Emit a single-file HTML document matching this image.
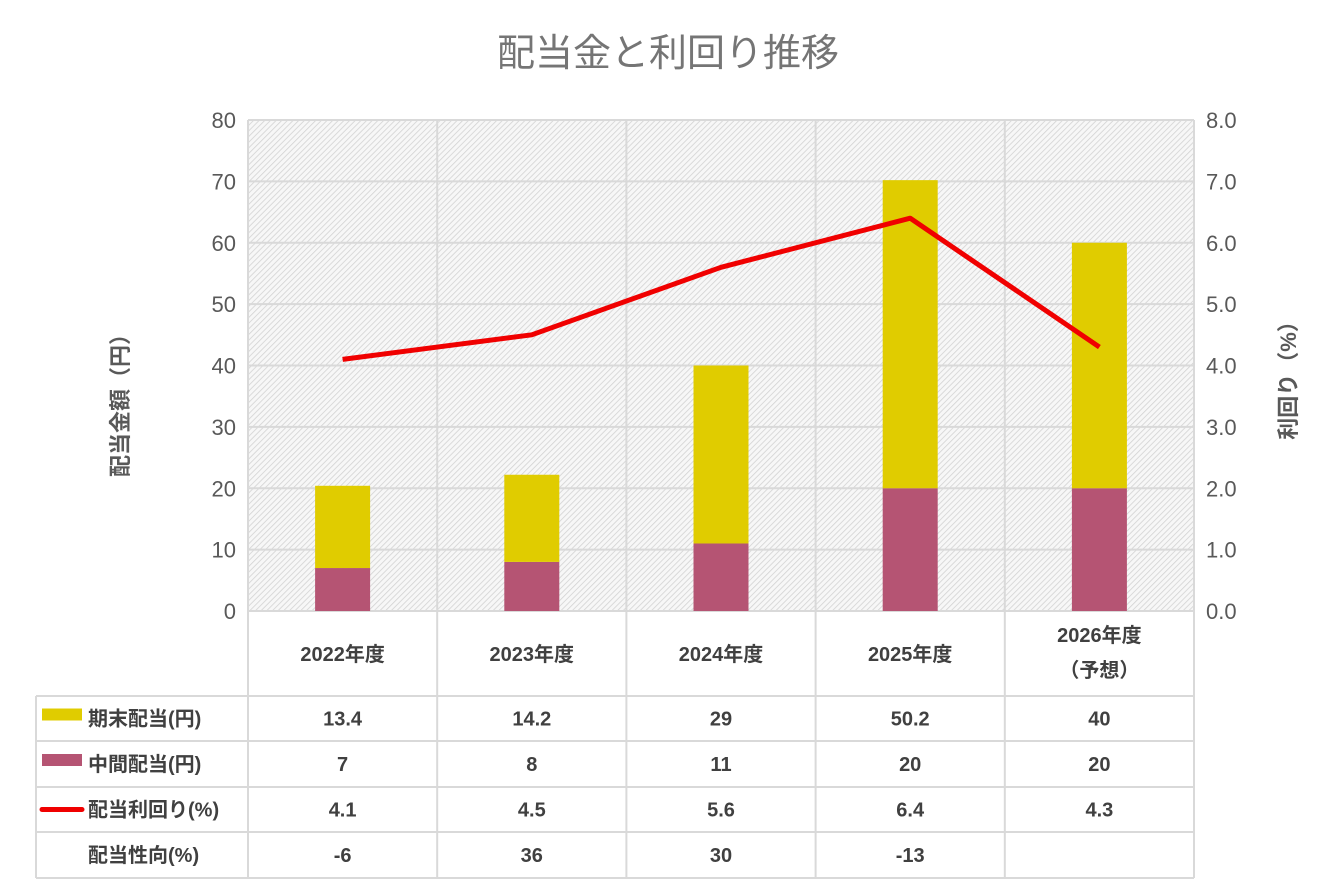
<!DOCTYPE html>
<html><head><meta charset="utf-8"><style>
body{margin:0;background:#fff;}
svg{display:block;font-family:"Liberation Sans","Noto Sans CJK JP",sans-serif;}
</style></head><body>
<svg id="c" width="1334" height="889" viewBox="0 0 1334 889">
<defs>
<pattern id="hatch" width="4" height="4" patternUnits="userSpaceOnUse" patternTransform="rotate(45)">
<rect width="4" height="4" fill="#f7f7f7"/>
<line x1="0" y1="0" x2="0" y2="4" stroke="#d2d2d2" stroke-width="1.6"/>
</pattern>
</defs>
<text x="668" y="66" text-anchor="middle" font-size="38" fill="#757575">配当金と利回り推移</text>
<rect x="248" y="120" width="946" height="491" fill="url(#hatch)"/>
<g id="grid"></g>
<g id="bars"></g>
<g id="line"></g>
<g id="table"></g>
<text transform="translate(128,400) rotate(-90)" text-anchor="middle" font-size="22" font-weight="bold" fill="#595959">配当金額（円）</text>
<text transform="translate(1296,375) rotate(-90)" text-anchor="middle" font-size="22" font-weight="bold" fill="#595959">利回り（%）</text>
</svg>
<script>
const categories=["2022年度","2023年度","2024年度","2025年度","2026年度"];
const catSub=["","","","","（予想）"];
const finalDiv=[13.4,14.2,29,50.2,40];
const interimDiv=[7,8,11,20,20];
const yieldPct=[4.1,4.5,5.6,6.4,4.3];
const payout=["-6","36","30","-13",""];
const leftTicks=[0,10,20,30,40,50,60,70,80];
const rightTicks=["0.0","1.0","2.0","3.0","4.0","5.0","6.0","7.0","8.0"];

const NS="http://www.w3.org/2000/svg";
const X0=248,X1=1194,Y0=611,Y1=120;
const cw=(X1-X0)/categories.length;
const y=v=>Y0-(v/80)*(Y0-Y1);
const y2=v=>Y0-(v/8)*(Y0-Y1);
const cx=i=>X0+cw*(i+0.5);
function mk(tag,attrs,parent,text){const e=document.createElementNS(NS,tag);for(const k in attrs)e.setAttribute(k,attrs[k]);if(text!==undefined)e.textContent=text;parent.appendChild(e);return e;}
const grid=document.getElementById('grid'),bars=document.getElementById('bars'),lg=document.getElementById('line'),tb=document.getElementById('table');
leftTicks.forEach((t,i)=>{
 const l=mk('line',{x1:X0,x2:X1,y1:y(t),y2:y(t),stroke:'#d9d9d9','stroke-width':2},grid);
 
 
 const a=mk('text',{x:236,y:y(t)+8,'text-anchor':'end','font-size':22,fill:'#595959'},grid,t);
 
 
 const b=mk('text',{x:1206,y:y(t)+8,'font-size':22,fill:'#595959'},grid,rightTicks[i]);
 
 
});
for(let i=0;i<=categories.length;i++){
 const l=mk('line',{x1:X0+cw*i,x2:X0+cw*i,y1:Y1,y2:878,stroke:'#d9d9d9','stroke-width':2},grid);
 
 
}
const bw=55;
categories.forEach((c,i)=>{
 const r1=mk('rect',{x:cx(i)-bw/2,y:y(interimDiv[i]),width:bw,height:Y0-y(interimDiv[i]),fill:'#b55473'},bars);
 
 
 const top=interimDiv[i]+finalDiv[i];
 const r2=mk('rect',{x:cx(i)-bw/2,y:y(top),width:bw,height:y(interimDiv[i])-y(top),fill:'#e0cc00'},bars);
 
 
});
const pts=yieldPct.map((v,i)=>cx(i)+','+y2(v)).join(' ');
const pl=mk('polyline',{points:pts,fill:'none',stroke:'#f00000','stroke-width':5,'stroke-linejoin':'round'},lg);


const rows=[611,696,741,787,832,878];
[696,741,787,832,878].forEach(yy=>{
 const l=mk('line',{x1:36,x2:X1,y1:yy,y2:yy,stroke:'#d9d9d9','stroke-width':2},tb);
 
 
});
const vl=mk('line',{x1:36,x2:36,y1:696,y2:878,stroke:'#d9d9d9','stroke-width':2},tb);


const tstyle={'text-anchor':'middle','font-size':20,'font-weight':'bold',fill:'#404040'};
categories.forEach((c,i)=>{
 const sub=catSub[i];
 const t=mk('text',Object.assign({x:cx(i),y:sub?642:661},tstyle),tb,c);
 
 
 if(sub){const s=mk('text',Object.assign({x:cx(i),y:677},tstyle),tb,sub);
 
 }
});
const series=[finalDiv,interimDiv,yieldPct,payout];
const labels=["期末配当(円)","中間配当(円)","配当利回り(%)","配当性向(%)"];
series.forEach((arr,r)=>{
 const my=(rows[r+1]+rows[r+2])/2+7;
 arr.forEach((v,i)=>{
  const t=mk('text',Object.assign({x:cx(i),y:my},tstyle),tb,String(v));
  
  
 });
 const lab=mk('text',{x:88,y:my,'font-size':20,'font-weight':'bold',fill:'#404040'},tb,labels[r]);
 
 
 if(r<2){const k=mk('rect',{x:42,y:my-17,width:40,height:12,fill:r===0?'#e0cc00':'#b55473'},tb);
  
  }
 if(r===2){const k=mk('line',{x1:42,x2:82,y1:my-7,y2:my-7,stroke:'#f00000','stroke-width':5,'stroke-linecap':'round'},tb);
  
  }
});
</script>
</body></html>
